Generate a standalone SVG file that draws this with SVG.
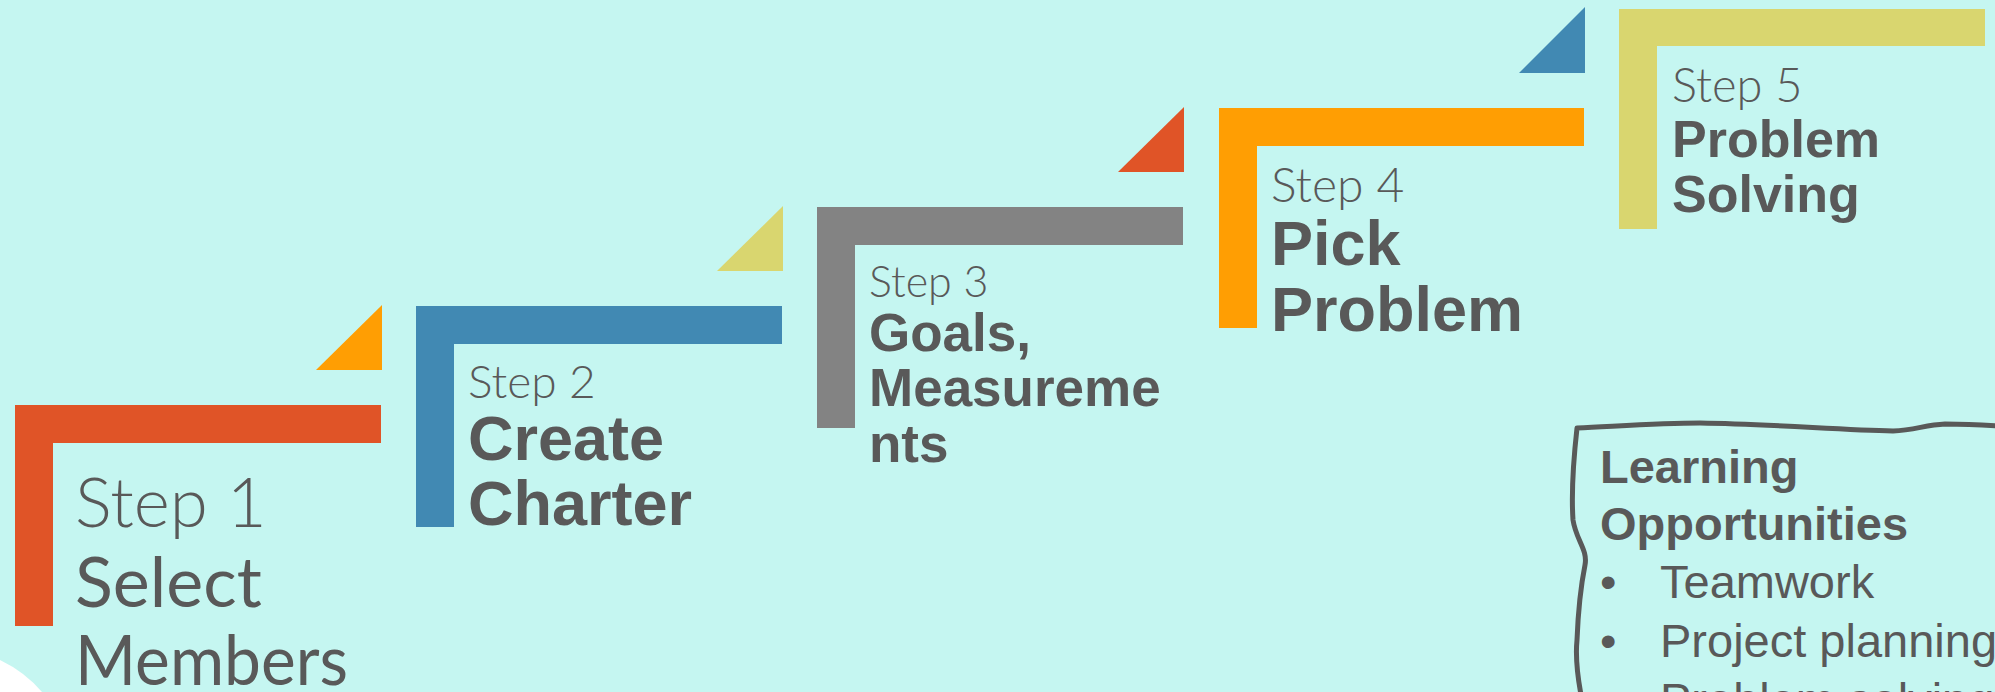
<svg xmlns="http://www.w3.org/2000/svg" width="1995" height="692" viewBox="0 0 1995 692">
<style>
.step{font-family:Lato,"Open Sans",sans-serif;font-weight:300;fill:#595959}
.s1{font-family:Lato,"Open Sans",sans-serif;font-weight:400;fill:#595959}
.title{font-family:"Liberation Sans",Arial,sans-serif;font-weight:700;fill:#595959}
.body{font-family:"Liberation Sans",Arial,sans-serif;fill:#595959}
</style>
<rect width="1995" height="692" fill="#C5F6F1"/>
<path d="M0,660 Q25,672 42,692 L0,692 Z" fill="#FFFFFF"/>
<g id="step1">
<path d="M15,405 H381 V443 H53 V626 H15 Z" fill="#E05427"/>
<polygon points="316,370 382,370 382,305" fill="#FF9E03"/>
<text class="step" x="75" y="527" font-size="69">Step 1</text>
<text class="s1" x="75" y="607" font-size="70">Select</text>
<text class="s1" x="75" y="685" font-size="70" textLength="273" lengthAdjust="spacingAndGlyphs">Members</text>
</g>
<g id="step2">
<path d="M416,306 H782 V344 H454 V527 H416 Z" fill="#4189B3"/>
<polygon points="717,271 783,271 783,206" fill="#D9D66F"/>
<text class="step" x="468" y="398" font-size="46">Step 2</text>
<text class="title" x="468" y="460" font-size="63">Create</text>
<text class="title" x="468" y="525" font-size="63">Charter</text>
</g>
<g id="step3">
<path d="M817,207 H1183 V245 H855 V428 H817 Z" fill="#838383"/>
<polygon points="1118,172 1184,172 1184,107" fill="#E05427"/>
<text class="step" x="869" y="297" font-size="43">Step 3</text>
<text class="title" x="869" y="351" font-size="53">Goals,</text>
<text class="title" x="869" y="406" font-size="53">Measureme</text>
<text class="title" x="869" y="462" font-size="53">nts</text>
</g>
<g id="step4">
<path d="M1219,108 H1584 V146 H1257 V328 H1219 Z" fill="#FF9E03"/>
<polygon points="1519,73 1585,73 1585,7" fill="#4189B3"/>
<text class="step" x="1271" y="202" font-size="48">Step 4</text>
<text class="title" x="1271" y="265" font-size="63">Pick</text>
<text class="title" x="1271" y="331" font-size="63">Problem</text>
</g>
<g id="step5">
<path d="M1619,9 H1985 V46 H1657 V229 H1619 Z" fill="#D9D66F"/>
<text class="step" x="1672" y="102" font-size="47">Step 5</text>
<text class="title" x="1672" y="157" font-size="52">Problem</text>
<text class="title" x="1672" y="212" font-size="52">Solving</text>
</g>
<g id="learning">
<path d="M1582,700 C1578,680 1575,660 1577,640 C1578,615 1580,590 1585,565 C1588,550 1576,540 1573,520 C1571,490 1574,455 1577,428 C1620,426 1660,423 1700,423 C1770,424 1840,430 1893,431 C1915,430 1925,425 1945,424 C1965,424 1985,425 2000,426" fill="none" stroke="#595959" stroke-width="5" stroke-linecap="round" stroke-linejoin="round"/>
<text class="title" x="1600" y="483" font-size="47">Learning</text>
<text class="title" x="1600" y="540" font-size="47">Opportunities</text>
<text class="body" x="1600" y="598" font-size="47">•</text>
<text class="body" x="1660" y="598" font-size="47">Teamwork</text>
<text class="body" x="1600" y="657" font-size="47">•</text>
<text class="body" x="1660" y="657" font-size="47">Project planning</text>
<text class="body" x="1600" y="716" font-size="47">•</text>
<text class="body" x="1660" y="716" font-size="47">Problem solving</text>
</g>
<g id="connectors"/>
</svg>
